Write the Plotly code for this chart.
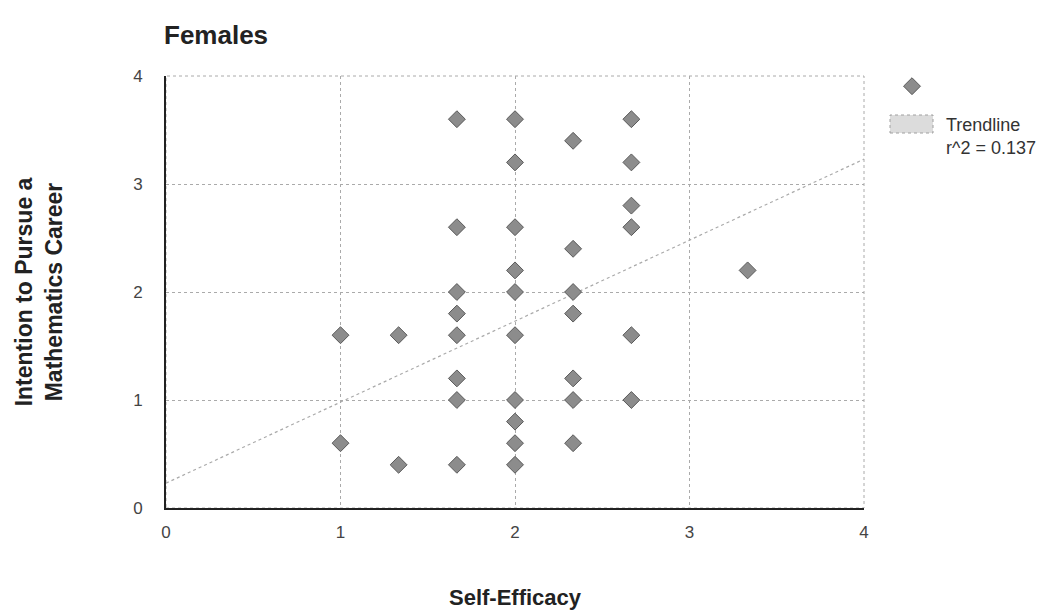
import plotly.graph_objects as go

# Data
self_efficacy = [1, 1, 1.333, 1.333,
                 1.667, 1.667, 1.667, 1.667, 1.667, 1.667, 1.667, 1.667,
                 2, 2, 2, 2, 2, 2, 2, 2, 2, 2,
                 2.333, 2.333, 2.333, 2.333, 2.333, 2.333, 2.333,
                 2.667, 2.667, 2.667, 2.667, 2.667, 2.667,
                 3.333]
intention = [1.6, 0.6, 1.6, 0.4,
             3.6, 2.6, 2.0, 1.8, 1.6, 1.2, 1.0, 0.4,
             3.6, 3.2, 2.6, 2.2, 2.0, 1.6, 1.0, 0.8, 0.6, 0.4,
             3.4, 2.4, 2.0, 1.8, 1.2, 1.0, 0.6,
             3.6, 3.2, 2.8, 2.6, 1.6, 1.0,
             2.2]
trend_x = [0, 4]
trend_y = [0.23, 3.23]
tick_vals = [0, 1, 2, 3, 4]
tick_text = ["0", "1", "2", "3", "4"]
trend_label = "Trendline<br>r^2 = 0.137"

FONT = "Liberation Sans, Arial, sans-serif"
W, H = 1060, 613
L, R, T, B = 166, 196, 76, 105
PW, PH = W - L - R, H - T - B


def px_x(p):  # pixel -> paper x
    return (p - L) / PW


def px_y(p):  # pixel -> paper y
    return 1 - (p - T) / PH


fig = go.Figure()
fig.add_trace(go.Scatter(
    x=trend_x, y=trend_y, mode="lines",
    line=dict(color="#aaaaaa", width=1.2, dash="dot"),
    showlegend=False, hoverinfo="skip"))
fig.add_trace(go.Scatter(
    x=self_efficacy, y=intention, mode="markers", name=" ",
    marker=dict(symbol="diamond", size=13, color="#8c8c8c",
                line=dict(color="#5a5a5a", width=1))))

axis_common = dict(
    range=[0, 4], tickvals=tick_vals, ticktext=tick_text,
    showgrid=True, gridcolor="#aaaaaa", griddash="dot", gridwidth=1,
    zeroline=False, ticks="", tickfont=dict(family=FONT, size=17, color="#444"),
    fixedrange=True, showline=True, linecolor="#222", linewidth=2, mirror=False,
    automargin=False)

fig.update_layout(
    width=W, height=H,
    margin=dict(l=L, r=R, t=T, b=B, autoexpand=False),
    paper_bgcolor="white", plot_bgcolor="white",
    title=dict(text="<b>Females</b>", x=164 / W, xanchor="left",
               y=1 - 35 / H, yanchor="middle",
               font=dict(family=FONT, size=26, color="#222")),
    xaxis=dict(**axis_common, ticklabelstandoff=8,
               title=dict(text="<b>Self-Efficacy</b>", standoff=48,
                          font=dict(family=FONT, size=22, color="#222"))),
    yaxis=dict(**axis_common, ticklabelstandoff=18,
               title=dict(text="<b>Intention to Pursue a<br>Mathematics Career</b>",
                          standoff=64,
                          font=dict(family=FONT, size=23, color="#222"))),
    legend=dict(x=px_x(892), y=px_y(68), xanchor="left", yanchor="top",
                font=dict(family=FONT, size=18, color="#333"),
                bgcolor="rgba(0,0,0,0)"),
    showlegend=True,
)
# dotted top/right border
fig.add_shape(type="rect", xref="paper", yref="paper", x0=0, y0=0, x1=1, y1=1,
              line=dict(color="#aaaaaa", width=1, dash="dot"), layer="below")
# trendline legend patch and label
fig.add_shape(type="rect", xref="paper", yref="paper",
              x0=px_x(890), x1=px_x(933), y0=px_y(133), y1=px_y(115),
              fillcolor="#dcdcdc", line=dict(color="#a0a0a0", width=1, dash="dot"))
fig.add_annotation(xref="paper", yref="paper", x=px_x(944), y=px_y(113),
                   xanchor="left", yanchor="top", align="left", showarrow=False,
                   text=trend_label,
                   font=dict(family=FONT, size=18, color="#333"))

fig.write_html("out.html")
